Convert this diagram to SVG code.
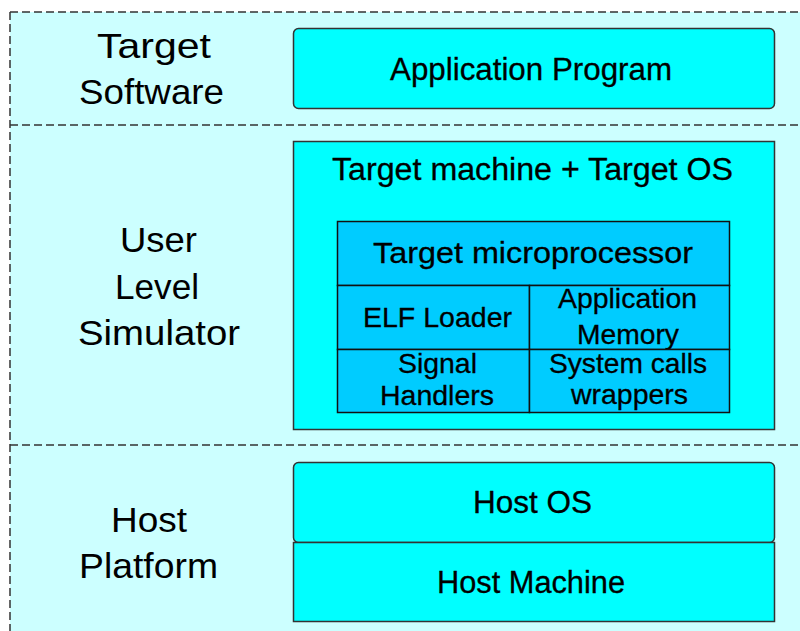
<svg xmlns="http://www.w3.org/2000/svg" width="800" height="631" viewBox="0 0 800 631">
<style>
text{font-family:"Liberation Sans",Arial,sans-serif;fill:#000;stroke:#000;stroke-width:0.3;text-anchor:middle}
.lbl{font-size:35px;stroke:none}
.dash{stroke:#333;stroke-width:1.5;stroke-dasharray:8 4;fill:none}
.box{fill:#00ffff;stroke:#333;stroke-width:1.5}
.cell{fill:#00ccff;stroke:#111;stroke-width:1.5}
</style>
<rect x="0" y="0" width="800" height="631" fill="#fff"/>
<rect x="10" y="12" width="790" height="619" fill="#ccffff"/>
<g id="bands">
<path class="dash" d="M10 12H800M10 125H800M10 445H800M10 12V631"/>
</g>
<g id="label-target-software">
<text class="lbl" x="154" y="58" textLength="114" lengthAdjust="spacingAndGlyphs">Target</text>
<text class="lbl" x="151.5" y="104" textLength="145" lengthAdjust="spacingAndGlyphs">Software</text>
</g>
<g id="label-user-level-simulator">
<text class="lbl" x="158.5" y="252" textLength="77" lengthAdjust="spacingAndGlyphs">User</text>
<text class="lbl" x="157" y="299" textLength="84" lengthAdjust="spacingAndGlyphs">Level</text>
<text class="lbl" x="159" y="345" textLength="162" lengthAdjust="spacingAndGlyphs">Simulator</text>
</g>
<g id="label-host-platform">
<text class="lbl" x="149" y="532" textLength="76" lengthAdjust="spacingAndGlyphs">Host</text>
<text class="lbl" x="148.5" y="578" textLength="139" lengthAdjust="spacingAndGlyphs">Platform</text>
</g>
<g id="application-program">
<rect class="box" x="293.5" y="28.5" width="481" height="80" rx="5"/>
<text x="531" y="80" font-size="31" textLength="282" lengthAdjust="spacingAndGlyphs">Application Program</text>
</g>
<g id="target-machine">
<rect class="box" x="293.5" y="141.5" width="481" height="288"/>
<text x="532.5" y="180" font-size="31" textLength="401" lengthAdjust="spacingAndGlyphs">Target machine + Target OS</text>
</g>
<g id="target-microprocessor">
<rect class="cell" x="337.5" y="221.5" width="392" height="64"/>
<text x="533" y="263" font-size="29.5" textLength="320" lengthAdjust="spacingAndGlyphs">Target microprocessor</text>
</g>
<g id="elf-loader">
<rect class="cell" x="337.5" y="285.5" width="192" height="64"/>
<text x="437.5" y="327" font-size="28" textLength="149" lengthAdjust="spacingAndGlyphs">ELF Loader</text>
</g>
<g id="application-memory">
<rect class="cell" x="529.5" y="285.5" width="200" height="64"/>
<text x="627.5" y="308" font-size="28" textLength="139" lengthAdjust="spacingAndGlyphs">Application</text>
<text x="628" y="344" font-size="28" textLength="102" lengthAdjust="spacingAndGlyphs">Memory</text>
</g>
<g id="signal-handlers">
<rect class="cell" x="337.5" y="349.5" width="192" height="63"/>
<text x="437.5" y="373" font-size="28" textLength="79" lengthAdjust="spacingAndGlyphs">Signal</text>
<text x="437" y="405" font-size="28" textLength="114" lengthAdjust="spacingAndGlyphs">Handlers</text>
</g>
<g id="system-calls-wrappers">
<rect class="cell" x="529.5" y="349.5" width="200" height="63"/>
<text x="628" y="373" font-size="28" textLength="158" lengthAdjust="spacingAndGlyphs">System calls</text>
<text x="629.5" y="404" font-size="28" textLength="117" lengthAdjust="spacingAndGlyphs">wrappers</text>
</g>
<g id="host-os">
<rect class="box" x="293.5" y="462.5" width="481" height="80" rx="5"/>
<text x="532.5" y="513" font-size="31" textLength="119" lengthAdjust="spacingAndGlyphs">Host OS</text>
</g>
<g id="host-machine">
<rect class="box" x="293.5" y="542.5" width="481" height="79"/>
<text x="531" y="593" font-size="31" textLength="188" lengthAdjust="spacingAndGlyphs">Host Machine</text>
</g>
</svg>
